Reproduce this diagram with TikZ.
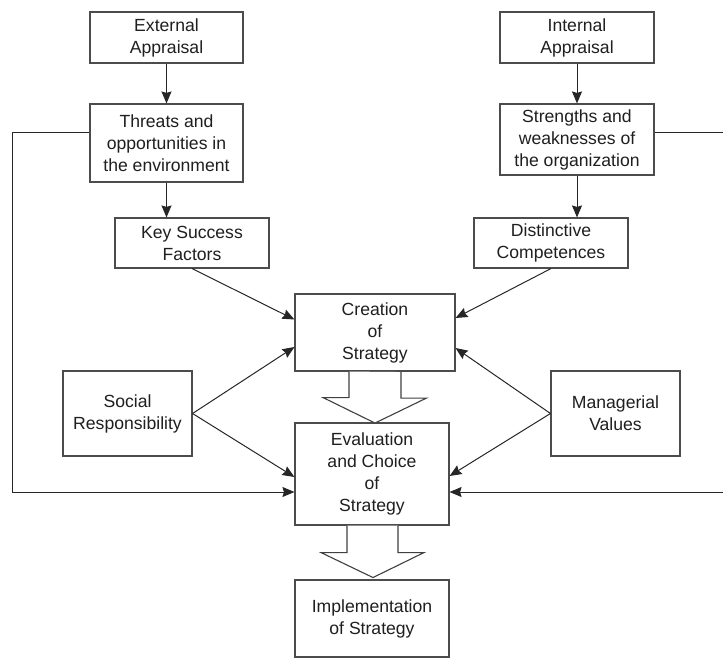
\documentclass[tikz,border=0pt]{standalone}
\usepackage{fontspec}
\setmainfont{Liberation Sans}
\usetikzlibrary{arrows.meta,calc}
\begin{document}
\begin{tikzpicture}[x=1pt,y=-1pt,
  box/.style={draw=black!70,line width=1.1pt,fill=white,align=center,inner sep=0pt,
    text=black!88,font=\fontsize{17.6}{22}\selectfont},
  arr/.style={draw=black!85,line width=1pt,-{Stealth[length=12pt,width=10pt,inset=1.5pt]}},
  fb/.style={arr,rounded corners=0pt},
  blockarrow/.style={draw=black!75,line width=1.1pt,fill=white,line join=miter}]
\useasboundingbox (0,0) rectangle (723,658);

% appraisal boxes
\node[box,minimum width=153pt,minimum height=51pt] (ext) at (166.5,37.5) {External\\Appraisal};
\node[box,minimum width=154pt,minimum height=51pt] (int) at (577,37.5) {Internal\\Appraisal};
\node[box,minimum width=153pt,minimum height=78pt] (thr) at (166.5,143) {Threats and\\opportunities in\\the environment};
\node[box,minimum width=154pt,minimum height=71pt] (str) at (577,139.5) {Strengths and\\weaknesses of\\the organization};
\node[box,minimum width=154pt,minimum height=50pt] (ksf) at (192,243) {Key Success\\Factors};
\node[box,minimum width=154pt,minimum height=50pt] (dc) at (551,243) {Distinctive\\Competences};

% strategy process
\node[box,minimum width=160pt,minimum height=77pt] (cre) at (375,332.5) {Creation\\of\\Strategy};
\node[box,minimum width=154pt,minimum height=102pt] (eva) at (372,474) {Evaluation\\and Choice\\of\\Strategy};
\node[box,minimum width=154pt,minimum height=77pt] (imp) at (372,618.5) {Implementation\\of Strategy};

% side influences
\node[box,minimum width=129pt,minimum height=85pt] (soc) at (127.5,413.5) {Social\\Responsibility};
\node[box,minimum width=129pt,minimum height=85pt] (man) at (615.5,413.5) {Managerial\\Values};

% vertical flow
\draw[arr] (ext.south) -- (thr.north);
\draw[arr] (int.south) -- (str.north);
\draw[arr] (thr.south) -- (thr.south |- ksf.north);
\draw[arr] (str.south) -- (str.south |- dc.north);

% inputs to creation and evaluation
\draw[arr] (ksf.south) -- ($(cre.west)+(0,-13)$);
\draw[arr] (dc.south) -- ($(cre.east)+(0,-14.5)$);
\draw[arr] (soc.east) -- ($(cre.west)+(0,14.5)$);
\draw[arr] (soc.east) -- ($(eva.west)+(0,3)$);
\draw[arr] (man.west) -- ($(cre.east)+(0,15.5)$);
\draw[arr] (man.west) -- ($(eva.east)+(0,2)$);

% feedback loops (the right one runs along the page edge)
\coordinate (tl) at (12,133);
\coordinate (bl) at (12,492);
\coordinate (tr) at (725,133);
\coordinate (br) at (725,492);
\draw[fb] (thr.west |- tl) -- (tl) -- (bl) -- (eva.west |- bl);
\draw[fb] (str.east |- tr) -- (tr) -- (br) -- (eva.east |- br);

% block arrows
\draw[blockarrow] ($(cre.south)+(-26,0)$) -- ++(0,26) -- ++(-26,0)
  -- ($(cre.south)+(0,51.5)$) -- ++(51.5,-25) -- ++(-25.5,0) -- ++(0,-26);
\draw[blockarrow] ($(eva.south)+(-25,0)$) -- ++(0,27) -- ++(-26,0)
  -- ($(eva.south)+(1,52)$) -- ++(51,-25) -- ++(-26,0) -- ++(0,-27);
\end{tikzpicture}
\end{document}
